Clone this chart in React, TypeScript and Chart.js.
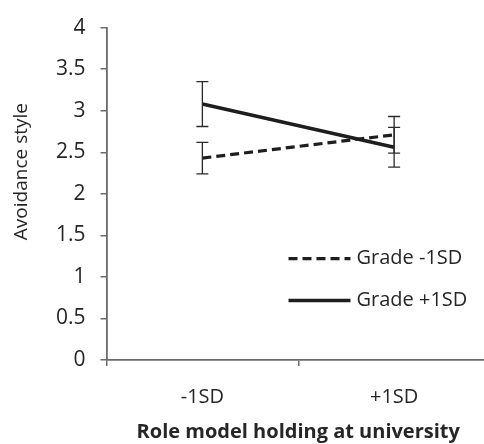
import React, { useEffect, useRef } from "react";
import { Chart, registerables } from "chart.js";

Chart.register(...registerables);

const categories = ["-1SD", "+1SD"];
const gradeLowLabel = "Grade -1SD";
const gradeHighLabel = "Grade +1SD";
const gradeLow = [2.43, 2.71];
const gradeLowErr = [0.19, 0.22];
const gradeHigh = [3.08, 2.56];
const gradeHighErr = [0.27, 0.24];
const yMin = 0;
const yMax = 4;
const yStep = 0.5;
const yTitle = "Avoidance style";
const xTitle = "Role model holding at university";

const FONT = "'Open Sans', 'DejaVu Sans', sans-serif";
const TEXT = "#262626";
const AXIS = "#6b6b6b";
const LINE = "#1e1e1e";

const errorBarPlugin = {
  id: "errorBars",
  afterDatasetsDraw(chart: any) {
    const ctx = chart.ctx;
    const xs = chart.scales.x;
    const ys = chart.scales.y;
    chart.data.datasets.forEach((ds: any) => {
      const errs: number[] = ds.errors || [];
      ds.data.forEach((v: number, i: number) => {
        const e = errs[i];
        if (e == null) return;
        const x = xs.getPixelForValue(i);
        const yTop = ys.getPixelForValue(v + e);
        const yBot = ys.getPixelForValue(v - e);
        ctx.save();
        ctx.strokeStyle = "#2a2a2a";
        ctx.lineWidth = 1.3;
        ctx.beginPath();
        ctx.moveTo(x, yTop);
        ctx.lineTo(x, yBot);
        ctx.moveTo(x - 6, yTop);
        ctx.lineTo(x + 6, yTop);
        ctx.moveTo(x - 6, yBot);
        ctx.lineTo(x + 6, yBot);
        ctx.stroke();
        ctx.restore();
      });
    });
  },
};

const insideLegendPlugin = {
  id: "insideLegend",
  afterDraw(chart: any) {
    const ctx = chart.ctx;
    const area = chart.chartArea;
    const x0 = area.left + 182;
    const x1 = x0 + 62;
    const rows = [area.top + 231, area.top + 273];
    chart.data.datasets.forEach((ds: any, i: number) => {
      const y = rows[i];
      ctx.save();
      ctx.strokeStyle = ds.borderColor;
      ctx.lineWidth = ds.borderWidth;
      ctx.setLineDash(ds.borderDash || []);
      ctx.beginPath();
      ctx.moveTo(x0, y);
      ctx.lineTo(x1, y);
      ctx.stroke();
      ctx.setLineDash([]);
      ctx.fillStyle = TEXT;
      ctx.font = `20px ${FONT}`;
      ctx.textBaseline = "middle";
      ctx.textAlign = "left";
      ctx.fillText(ds.label, x1 + 6, y);
      ctx.restore();
    });
    // y axis title, rotated, placed slightly above centre as in the reference
    ctx.save();
    ctx.translate(22, area.top + 144);
    ctx.rotate(-Math.PI / 2);
    ctx.fillStyle = TEXT;
    ctx.font = `19px ${FONT}`;
    ctx.textAlign = "center";
    ctx.textBaseline = "middle";
    ctx.fillText(yTitle, 0, 0);
    ctx.restore();
  },
};

export default function App() {
  const ref = useRef<HTMLCanvasElement | null>(null);

  useEffect(() => {
    if (!ref.current) return;
    const chart = new Chart(ref.current, {
      type: "line",
      data: {
        labels: categories,
        datasets: [
          {
            label: gradeLowLabel,
            data: gradeLow,
            errors: gradeLowErr,
            borderColor: LINE,
            borderWidth: 3.2,
            borderDash: [9, 5],
            pointRadius: 0,
            fill: false,
          } as any,
          {
            label: gradeHighLabel,
            data: gradeHigh,
            errors: gradeHighErr,
            borderColor: LINE,
            borderWidth: 3.5,
            pointRadius: 0,
            fill: false,
          } as any,
        ],
      },
      options: {
        animation: false,
        responsive: false,
        maintainAspectRatio: false,
        layout: { padding: { top: 19, right: 2, left: 0, bottom: 0 } },
        plugins: {
          legend: { display: false },
          tooltip: { enabled: false },
        },
        scales: {
          x: {
            type: "category",
            offset: true,
            afterFit: (s: any) => {
              s.height = 84;
            },
            grid: {
              offset: true,
              drawOnChartArea: false,
              drawTicks: true,
              tickLength: 6,
              color: AXIS,
              lineWidth: 1.5,
            },
            border: { color: AXIS, width: 1.8 },
            ticks: {
              color: TEXT,
              font: { family: FONT, size: 20 },
              padding: 19,
            },
            title: {
              display: true,
              text: xTitle,
              color: TEXT,
              font: { family: FONT, size: 20, weight: "bold" },
              padding: { top: 0, bottom: 0 },
            },
          },
          y: {
            min: yMin,
            max: yMax,
            afterFit: (s: any) => {
              s.width = 106.5;
            },
            ticks: {
              stepSize: yStep,
              color: TEXT,
              font: { family: FONT, size: 21 },
              padding: 15,
              callback: (v: any) => `${Number(v)}`,
            },
            grid: {
              drawOnChartArea: false,
              drawTicks: true,
              tickLength: 6,
              color: AXIS,
              lineWidth: 1.5,
            },
            border: { color: AXIS, width: 1.8 },
          },
        },
      },
      plugins: [errorBarPlugin, insideLegendPlugin],
    });
    return () => chart.destroy();
  }, []);

  return (
    <div
      style={{
        position: "fixed",
        left: 0,
        top: 0,
        width: 484,
        height: 444,
        overflow: "hidden",
        background: "#fff",
      }}
    >
      <canvas ref={ref} width={492} height={444} style={{ width: 492, height: 444, display: "block" }} />
    </div>
  );
}
